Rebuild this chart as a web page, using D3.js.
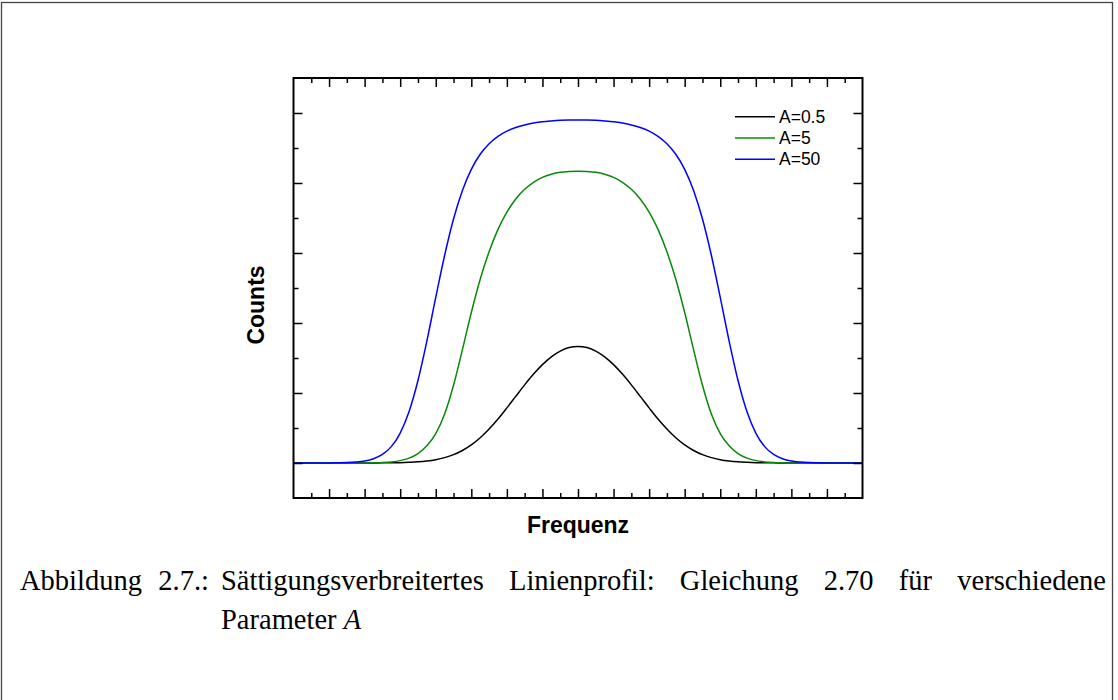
<!DOCTYPE html>
<html>
<head>
<meta charset="utf-8">
<script src="https://cdn.jsdelivr.net/npm/d3@7"></script>
<style>
  html, body { margin: 0; padding: 0; background: #fff; }
  svg { display: block; }
</style>
</head>
<body>
<svg id="chart" width="1118" height="700"></svg>
<script>
// ---------------- DATA ----------------
const freq = [0,0.25,0.5,0.75,1,1.25,1.5,1.75,2,2.25,2.5,2.75,3,3.25,3.5,3.75,4,4.25,4.5,4.75,5,5.25,5.5,5.75,6,6.25,6.5,6.75,7,7.25,7.5,7.75,
              8,8.25,8.5,8.75,9,9.25,9.5,9.75,10,10.25,10.5,10.75,11,11.25,11.5,11.75,12,12.25,12.5,12.75,13,13.25,13.5,13.75,14,14.25,14.5,14.75,15,15.25,15.5,15.75,16];

const countsA05 = [0,0,0,0,0,0,0,0,0,0.001,0.002,0.003,0.005,0.01,0.017,0.029,0.048,0.077,0.119,0.179,0.258,0.36,0.485,0.628,0.787,0.952,1.116,1.27,1.405,1.517,1.599,1.65,
                   1.663,
                   1.65,1.599,1.517,1.405,1.27,1.116,0.952,0.787,0.628,0.485,0.36,0.258,0.179,0.119,0.077,0.048,0.029,0.017,0.01,0.005,0.003,0.002,0.001,0,0,0,0,0,0,0,0,0];

const countsA5 = [0,0,0,0,0,0,0,0,0.001,0.003,0.007,0.016,0.034,0.07,0.135,0.245,0.42,0.7,1.11,1.62,2.15,2.626,3.018,3.337,3.584,3.772,3.911,4.01,4.08,4.125,4.152,4.164,
                  4.168,
                  4.164,4.152,4.125,4.08,4.01,3.911,3.772,3.584,3.337,3.018,2.626,2.15,1.62,1.11,0.7,0.42,0.245,0.135,0.07,0.034,0.016,0.007,0.003,0.001,0,0,0,0,0,0,0,0];

const countsA50 = [0,0,0,0,0.001,0.003,0.006,0.014,0.029,0.061,0.122,0.234,0.428,0.736,1.179,1.742,2.365,2.968,3.486,3.893,4.195,4.41,4.561,4.667,4.741,4.793,4.83,4.856,4.875,4.887,4.896,4.9,
                   4.9,
                   4.9,4.896,4.887,4.875,4.856,4.83,4.793,4.741,4.667,4.561,4.41,4.195,3.893,3.486,2.968,2.365,1.742,1.179,0.736,0.428,0.234,0.122,0.061,0.029,0.014,0.006,0.003,0.001,0,0,0,0];

const seriesNames = ["A=0.5", "A=5", "A=50"];
const seriesColors = ["#000000", "#0b870b", "#0000ff"];

const xMajorTicks = [1,2,3,4,5,6,7,8,9,10,11,12,13,14,15];
const xMinorTicks = [0.5,1.5,2.5,3.5,4.5,5.5,6.5,7.5,8.5,9.5,10.5,11.5,12.5,13.5,14.5,15.5];
const yMajorTicks = [0,1,2,3,4,5];
const yMinorTicks = [0.5,1.5,2.5,3.5,4.5];

const xLabel = "Frequenz";
const yLabel = "Counts";
const captionHead = "Abbildung 2.7.:";
const captionLine1 = "Sättigungsverbreitertes Linienprofil: Gleichung 2.70 für verschiedene";
const captionLine2 = "Parameter ";
const captionSymbol = "A";

// ---------------- LAYOUT ----------------
const svg = d3.select("#chart");
const L = 293.5, R = 862.5, T = 78, B = 498;

const x = d3.scaleLinear().domain([0, 16]).range([L, R]);
const y = d3.scaleLinear().domain([-0.5, 5.5]).range([B, T]);

// outer page frame
svg.append("rect")
  .attr("x", 1.5).attr("y", 2.5).attr("width", 1111).attr("height", 800)
  .attr("fill", "none").attr("stroke", "#444").attr("stroke-width", 1.3);

// curves
const series = [countsA05, countsA5, countsA50];
const line = d3.line()
  .x((d, i) => x(freq[i]))
  .y(d => y(d))
  .curve(d3.curveMonotoneX);

const gCurves = svg.append("g");
series.forEach((vals, k) => {
  gCurves.append("path")
    .datum(vals)
    .attr("d", line)
    .attr("fill", "none")
    .attr("stroke", seriesColors[k])
    .attr("stroke-width", 1.5);
});

// axes with inward ticks, no labels
function styleAxis(g) {
  g.select(".domain").remove();
  g.selectAll(".tick line").attr("stroke", "#000").attr("stroke-width", 1.5);
  g.selectAll(".tick text").remove();
}
const axes = [
  { gen: d3.axisTop, scale: x, tr: `translate(0,${B})`, major: xMajorTicks, minor: xMinorTicks },
  { gen: d3.axisBottom, scale: x, tr: `translate(0,${T})`, major: xMajorTicks, minor: xMinorTicks },
  { gen: d3.axisRight, scale: y, tr: `translate(${L},0)`, major: yMajorTicks, minor: yMinorTicks },
  { gen: d3.axisLeft, scale: y, tr: `translate(${R},0)`, major: yMajorTicks, minor: yMinorTicks }
];
axes.forEach(a => {
  svg.append("g").attr("transform", a.tr)
    .call(a.gen(a.scale).tickValues(a.major).tickSize(9).tickFormat(""))
    .call(styleAxis);
  svg.append("g").attr("transform", a.tr)
    .call(a.gen(a.scale).tickValues(a.minor).tickSize(5).tickFormat(""))
    .call(styleAxis);
});

// plot frame
svg.append("rect")
  .attr("x", L).attr("y", T).attr("width", R - L).attr("height", B - T)
  .attr("fill", "none").attr("stroke", "#000").attr("stroke-width", 2);

// axis titles
svg.append("text")
  .attr("x", (L + R) / 2).attr("y", 533)
  .attr("text-anchor", "middle")
  .attr("font-family", "'Liberation Sans', Arial, sans-serif")
  .attr("font-weight", "bold").attr("font-size", 23)
  .text(xLabel);

svg.append("text")
  .attr("transform", `translate(264,${(T + B) / 2 + 17}) rotate(-90)`)
  .attr("text-anchor", "middle")
  .attr("font-family", "'Liberation Sans', Arial, sans-serif")
  .attr("font-weight", "bold").attr("font-size", 23)
  .text(yLabel);

// legend
const legY = [116.7, 137.9, 159.2];
const gLeg = svg.append("g");
seriesNames.forEach((name, k) => {
  gLeg.append("line")
    .attr("x1", 735).attr("x2", 775)
    .attr("y1", legY[k]).attr("y2", legY[k])
    .attr("stroke", seriesColors[k]).attr("stroke-width", 1.5);
  gLeg.append("text")
    .attr("x", 779).attr("y", legY[k] + 6)
    .attr("font-family", "'Liberation Sans', Arial, sans-serif")
    .attr("font-size", 17.5)
    .text(name);
});

// caption (justified like the LaTeX original)
const capFont = "'Liberation Serif', 'Times New Roman', serif";
const capSize = 28.5;
function justify(sel, x0, x1) {
  const txt = sel.text();
  const natural = sel.node().getComputedTextLength();
  const gaps = txt.split(" ").length - 1;
  if (gaps > 0) sel.attr("word-spacing", Math.max(0, (x1 - x0 - natural) / gaps));
}
const head = svg.append("text")
  .attr("x", 20).attr("y", 590)
  .attr("font-family", capFont).attr("font-size", capSize)
  .text(captionHead);
justify(head, 20, 209);

const cap1 = svg.append("text")
  .attr("x", 221).attr("y", 590)
  .attr("font-family", capFont).attr("font-size", capSize)
  .text(captionLine1);
justify(cap1, 221, 1106);

const cap2 = svg.append("text")
  .attr("x", 221).attr("y", 629)
  .attr("font-family", capFont).attr("font-size", capSize);
cap2.append("tspan").text(captionLine2);
cap2.append("tspan").attr("font-style", "italic").text(captionSymbol);
</script>
</body>
</html>
